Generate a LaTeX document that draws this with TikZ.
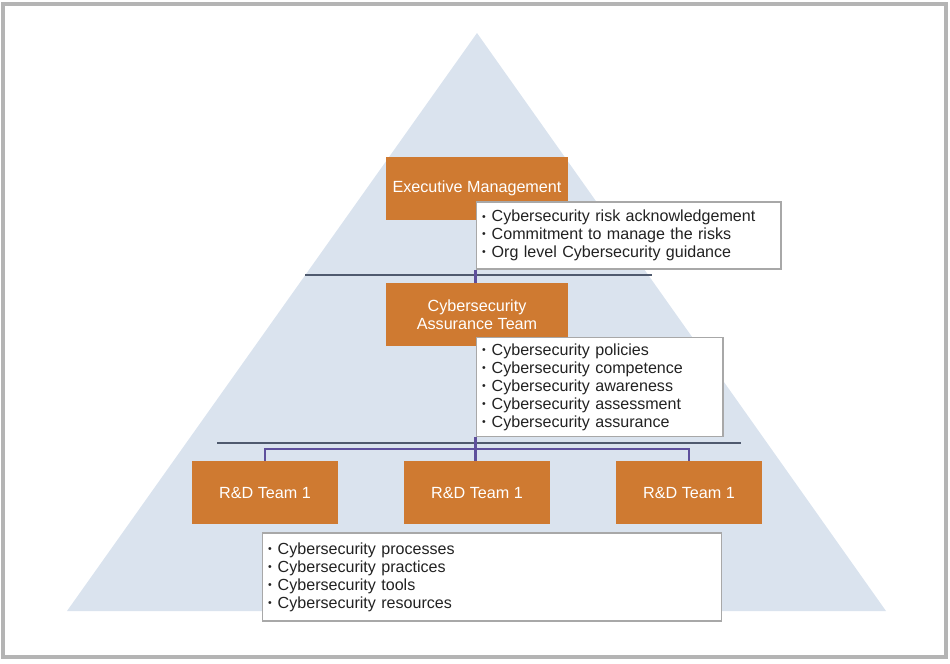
\documentclass[tikz,border=0pt]{standalone}
\usepackage{fontspec}
\setmainfont{Liberation Sans}
\definecolor{pyr}{HTML}{DAE3EE}
\definecolor{org}{HTML}{CF7A31}
\definecolor{lgray}{HTML}{4F5A6E}
\definecolor{lpurp}{HTML}{5E509C}
\definecolor{bgray}{HTML}{A8A8A8}
\definecolor{frame}{HTML}{B4B4B4}
\definecolor{txt}{HTML}{222222}
\tikzset{
  orgbox/.style={fill=org, draw=none, text=white, minimum height=1.26cm, align=center, font=\fontsize{9.2}{10.4}\selectfont},
  bulbox/.style={fill=white, draw=bgray, line width=0.6pt, text=txt, align=left, inner xsep=0.12cm, font=\fontsize{9.15}{10.2}\selectfont},
  gline/.style={draw=lgray, line width=1.2pt},
  pline/.style={draw=lpurp, line width=1.2pt},
}
\newcommand{\bl}{{\fontsize{6}{6}\selectfont\raisebox{0.3ex}{\textbullet}}\hspace{0.12cm}}
\begin{document}
\begin{tikzpicture}[x=0.02cm,y=-0.02cm]
\useasboundingbox (0,0) rectangle (950,663);
\draw[frame, line width=1.8pt] (3,4) rectangle (946,657);
\fill[pyr] (477,33) -- (886,611) -- (67,611) -- cycle;
% lines
\coordinate (l1a) at (305,275);
\coordinate (l1b) at (652,275);
\coordinate (l2a) at (217,443);
\coordinate (l2b) at (741,443);
\coordinate (p1) at (265,449);
\coordinate (p3) at (689,449);
\draw[gline] (l1a) -- (l1b);
\draw[gline] (l2a) -- (l2b);
% nodes
\node[orgbox, minimum width=3.64cm] (exec) at (477,188.5) {Executive Management};
\node[orgbox, minimum width=3.64cm] (cyber) at (477,314.5) {Cybersecurity\\Assurance Team};
\node[orgbox, minimum width=2.92cm] (rd1) at (265,492.5) {R\&D Team 1};
\node[orgbox, minimum width=2.92cm] (rd2) at (477,492.5) {R\&D Team 1};
\node[orgbox, minimum width=2.92cm] (rd3) at (689,492.5) {R\&D Team 1};
\draw[pline] (rd1.north) -- (p1) -- (p3) -- (rd3.north);
\node[bulbox, minimum width=6.1cm, minimum height=1.34cm, text width=5.86cm] (ebul) at (628.5,235.5)
  {\bl Cybersecurity risk acknowledgement\\\bl Commitment to manage the risks\\\bl Org level Cybersecurity guidance};
\node[bulbox, minimum width=4.94cm, minimum height=1.96cm, text width=4.70cm] (cbul) at (599.5,387)
  {\bl Cybersecurity policies\\\bl Cybersecurity competence\\\bl Cybersecurity awareness\\\bl Cybersecurity assessment\\\bl Cybersecurity assurance};
\node[bulbox, minimum width=9.2cm, minimum height=1.76cm, text width=8.96cm] (rbul) at (492,577)
  {\bl Cybersecurity processes\\\bl Cybersecurity practices\\\bl Cybersecurity tools\\\bl Cybersecurity resources};
\draw[pline] ([yshift=-0.3pt]ebul.south west) -- (ebul.south west |- cyber.north);
\draw[pline] ([yshift=-0.3pt]cbul.south west) -- (cbul.south west |- rd2.north);
\end{tikzpicture}
\end{document}
